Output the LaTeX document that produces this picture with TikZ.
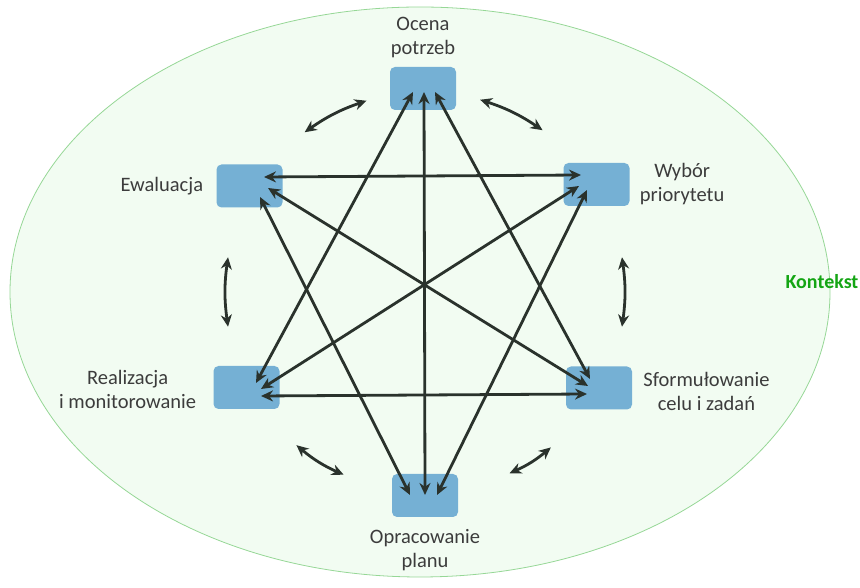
\documentclass[tikz,border=0pt]{standalone}
\usepackage{fontspec}
\setmainfont{Carlito}
\usetikzlibrary{arrows.meta,positioning}

\definecolor{boxblue}{RGB}{117,176,212}
\definecolor{bggreen}{RGB}{242,252,242}
\definecolor{edgegreen}{RGB}{150,215,150}
\definecolor{linkgray}{RGB}{42,50,44}
\definecolor{txtgray}{RGB}{60,60,60}
\definecolor{ctxgreen}{RGB}{20,165,20}

\begin{document}
\begin{tikzpicture}[x=1pt,y=1pt]
				\tikzstyle{stage}=[fill=boxblue,rounded corners=5pt,minimum width=66pt,minimum height=43pt,inner sep=0pt]
				\tikzstyle{lbl}=[text=txtgray,align=center,inner sep=0pt,font=\fontsize{20.5}{24}\selectfont]
				\tikzstyle{link}=[linkgray,line width=2.8pt,{Stealth[length=12pt,width=11pt]}-{Stealth[length=12pt,width=11pt]}]
				
				\useasboundingbox (0,0) rectangle (860,588);
				\draw[fill=bggreen,draw=edgegreen,line width=0.8pt] (420,296) ellipse [x radius=410,y radius=285];
				
				\node[stage] (ocena) at (423,499.5) {};
				\node[stage] (wybor) at (596.5,403.5) {};
				\node[stage] (cel) at (599,200) {};
				\node[stage] (plan) at (425,92.5) {};
				\node[stage] (real) at (246.5,200.5) {};
				\node[stage] (ewal) at (249.5,402) {};
				
				\node[lbl,above=9pt of ocena] (ocenaL) {Ocena\\potrzeb};
				\node[lbl,right=10pt of wybor] (wyborL) {Wybór\\priorytetu};
				\node[lbl,right=11pt of cel,yshift=-3pt] (celL) {Sformułowanie\\celu i zadań};
				\node[lbl,below=12pt of plan] (planL) {Opracowanie\\planu};
				\node[lbl,left=17pt of real,yshift=-2pt] (realL) {Realizacja\\i monitorowanie};
				\node[lbl,left=13pt of ewal] (ewalL) {Ewaluacja};
				\node[lbl,text=ctxgreen,font=\fontsize{20}{24}\selectfont\bfseries] (kontekst) at (822,306) {Kontekst};
				
				\draw[link] ([shift={(1,-3.5)}]ocena.center) -- ([shift={(0,0.5)}]plan.center);
				\draw[link] ([shift={(-10,-3.5)}]ocena.center) -- ([shift={(9.5,4.5)}]real.center);
				\draw[link] ([shift={(12,-3.5)}]ocena.center) -- ([shift={(-9,9)}]cel.center);
				\draw[link] ([shift={(14.5,9)}]ewal.center) -- ([shift={(-15.5,9.5)}]wybor.center);
				\draw[link] ([shift={(18.5,-2)}]ewal.center) -- ([shift={(-11,2)}]cel.center);
				\draw[link] ([shift={(10.5,-11)}]ewal.center) -- ([shift={(-15,0.5)}]plan.center);
				\draw[link] ([shift={(-17.5,-1.5)}]wybor.center) -- ([shift={(14.5,-1.5)}]real.center);
				\draw[link] ([shift={(-9.5,-5.5)}]wybor.center) -- ([shift={(12,0.5)}]plan.center);
				\draw[link] ([shift={(14.5,-8.5)}]real.center) -- ([shift={(-12,-6)}]cel.center);
				
				\coordinate (ctr) at (425,296);
				\foreach \a/\b in {54/74,107/127,170/190,230/246,295/309,-10/10}
					\draw[link] ([shift={(\a:200)}]ctr) to[bend right=8] ([shift={(\b:200)}]ctr);
				
\end{tikzpicture}
\end{document}
